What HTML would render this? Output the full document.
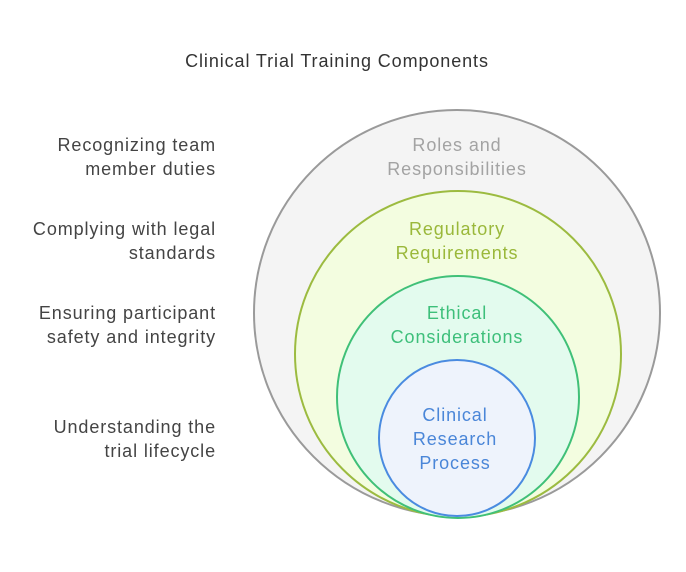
<!DOCTYPE html>
<html><head><style>
body{margin:0;background:#fff;}
svg text{font-family:"Liberation Sans",sans-serif;font-size:18px;letter-spacing:0.9px;}
</style></head><body>
<svg width="686" height="567" viewBox="0 0 686 567">
<text x="337" y="67" text-anchor="middle" fill="#333">Clinical Trial Training Components</text>
<circle cx="457" cy="313" r="203" fill="#f4f4f4" stroke="#9a9a9a" stroke-width="2"/>
<circle cx="458" cy="354" r="163" fill="#f3fde0" stroke="#9cbb40" stroke-width="2"/>
<circle cx="458" cy="397" r="121" fill="#e3fbee" stroke="#40c078" stroke-width="2"/>
<circle cx="457" cy="438" r="78" fill="#eef3fc" stroke="#4a8be0" stroke-width="2"/>
<g text-anchor="middle">
<text x="457" y="151" fill="#a3a3a3">Roles and</text>
<text x="457" y="175" fill="#a3a3a3">Responsibilities</text>
<text x="457" y="235" fill="#9ab83a">Regulatory</text>
<text x="457" y="259" fill="#9ab83a">Requirements</text>
<text x="457" y="319" fill="#3dbf7a">Ethical</text>
<text x="457" y="343" fill="#3dbf7a">Considerations</text>
<text x="455" y="421" fill="#4a86d8">Clinical</text>
<text x="455" y="445" fill="#4a86d8">Research</text>
<text x="455" y="469" fill="#4a86d8">Process</text>
</g>
<g text-anchor="end" fill="#444">
<text x="216" y="151">Recognizing team</text>
<text x="216" y="175">member duties</text>
<text x="216" y="235">Complying with legal</text>
<text x="216" y="259">standards</text>
<text x="216" y="319">Ensuring participant</text>
<text x="216" y="343">safety and integrity</text>
<text x="216" y="433">Understanding the</text>
<text x="216" y="457">trial lifecycle</text>
</g>
</svg>
</body></html>
